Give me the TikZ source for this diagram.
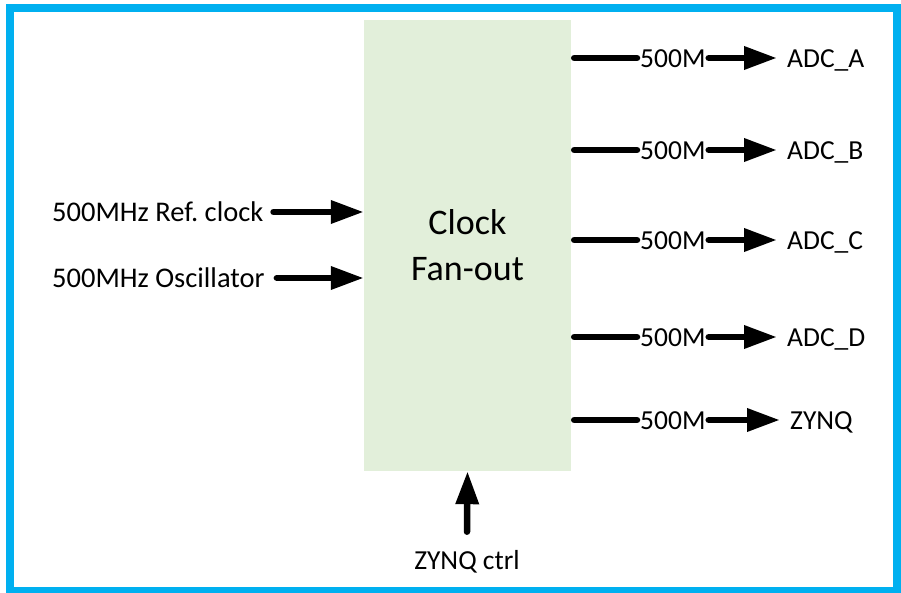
\documentclass[tikz,border=0pt]{standalone}
\usepackage{fontspec}
\setmainfont{Carlito}
\usetikzlibrary{arrows.meta,calc}
\definecolor{frameblue}{RGB}{0,176,240}
\definecolor{boxgreen}{RGB}{226,239,218}
\frenchspacing
\begin{document}
\begin{tikzpicture}[x=1pt,y=-1pt,
  lbl/.style={font=\fontsize{27.5}{33}\selectfont, inner sep=0pt, anchor=base west},
  inlbl/.style={lbl, font=\fontsize{28.5}{34}\selectfont},
  sig/.style={line width=6.5pt, line cap=round},
  sigarrow/.style={sig, -{Triangle[length=33pt,width=22pt]}},
  blockbox/.style={fill=boxgreen, minimum width=207pt, minimum height=451pt, inner sep=0pt,
    align=center, font=\fontsize{36}{46}\selectfont}
]
\useasboundingbox (0,0) rectangle (901,593);
\draw[frameblue, line width=8pt] (10,8) rectangle (897,591);

% main block
\node[blockbox] (box) at (467.5,245.5) {Clock\\Fan-out};

% inputs
\coordinate (rref) at (0,212);
\coordinate (rosc) at (0,278);
\node[inlbl] (ref) at (52,221.5) {500MHz Ref.\ clock};
\node[inlbl] (osc) at (52,287.5) {500MHz Oscillator};
\draw[sigarrow] ($(ref.east |- rref)+(10,0)$) -- (box.west |- rref);
\draw[sigarrow] ($(osc.east |- rosc)+(12,0)$) -- (box.west |- rosc);

% outputs
\foreach \n/\yy/\txt/\dx in {a/58/ADC\_A/787, b/150/ADC\_B/787, c/240/ADC\_C/787, d/337/ADC\_D/787, z/420/ZYNQ/790}{
  \coordinate (r\n) at (0,\yy);
  \node[lbl] (f\n) at (640,\yy+9.5) {500M};
  \node[lbl] (o\n) at (\dx,\yy+9.5) {\txt};
  \draw[sig, shorten <=3pt, shorten >=3pt] (box.east |- r\n) -- (f\n.west |- r\n);
  \draw[sigarrow, shorten <=3pt] (f\n.east |- r\n) -- ($(o\n.west |- r\n)+(-10,0)$);
}

% control
\node[lbl, anchor=base] (ctrl) at (467,569) {ZYNQ ctrl};
\draw[sigarrow] ($(ctrl.north)+(0,-18)$) -- (box.south);
\end{tikzpicture}
\end{document}
